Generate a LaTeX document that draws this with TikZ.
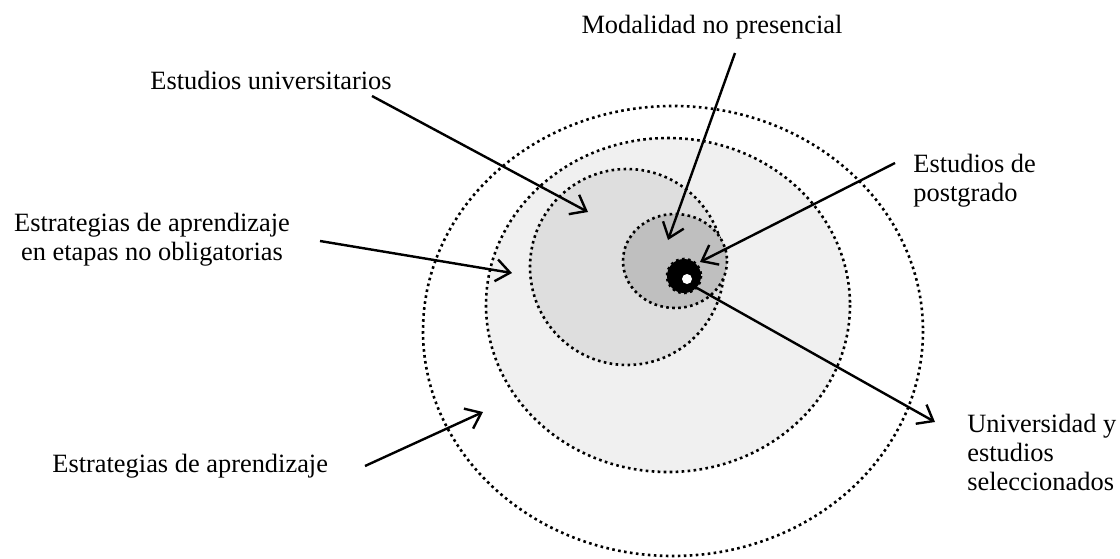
\documentclass[tikz,border=0pt]{standalone}
\usepackage{fontspec}
\setmainfont{Liberation Serif}
\usetikzlibrary{arrows.meta}
\colorlet{ring a}{white}
\colorlet{ring b}{black!6}
\colorlet{ring c}{black!13}
\colorlet{ring d}{black!25}

\begin{document}
\begin{tikzpicture}[x=0.5pt,y=-0.5pt]

\def\lw{1.3pt}

\tikzset{
    every node/.style={font=\fontsize{13.2}{14.5}\selectfont, inner sep=0pt},
    wire/.style={-{Straight Barb[length=7pt,width=11pt]}, line width=1.2pt, draw},
    ring/.style={draw, line width=\lw, dash pattern=on \lw off 1.7pt},
    label text/.style={align=left, anchor=west}
}

\useasboundingbox (0,0) rectangle (1120,558);

% anillos
\path[ring, fill=ring a] (673,331) ellipse [x radius=250, y radius=225];
\path[ring, fill=ring b] (668,305) ellipse [x radius=182, y radius=167];
\path[ring, fill=ring c] (627,267) ellipse [x radius=97, y radius=98];
\path[ring, fill=ring d] (675,261) ellipse [x radius=52, y radius=47];
\path[ring, fill=black] (684,276) circle [radius=17];
\path[fill=white] (687,279) circle [radius=5];

% textos
\node[anchor=west] (UNIV) at (150,80) {Estudios universitarios};
\node (MODAL) at (712,27) {Modalidad no presencial};
\node[label text] (POSTGRADO) at (913,181) {Estudios de\\postgrado};
\node[align=center] (ETAPAS) at (152,240) {Estrategias de aprendizaje\\en etapas no obligatorias};
\node[anchor=west] (ESTRATEGIAS) at (52,466) {Estrategias de aprendizaje};
\node[label text] (SELECCION) at (967,452) {Universidad y\\estudios\\seleccionados};

% flechas
\coordinate (univ tail) at (372,96);   \coordinate (univ tip) at (588,212);
\coordinate (modal tail) at (735,53);  \coordinate (modal tip) at (668,240);
\coordinate (post tail) at (895,163);  \coordinate (post tip) at (700,262);
\coordinate (etapas tail) at (320,241); \coordinate (etapas tip) at (512,273);
\coordinate (estr tail) at (365,466);  \coordinate (estr tip) at (483,412);
\coordinate (sel tail) at (697,288);   \coordinate (sel tip) at (935,422);

\path[wire] (univ tail) -- (univ tip);
\path[wire] (modal tail) -- (modal tip);
\path[wire] (post tail) -- (post tip);
\path[wire] (etapas tail) -- (etapas tip);
\path[wire] (estr tail) -- (estr tip);
\path[wire] (sel tail) -- (sel tip);
\end{tikzpicture}
\end{document}
